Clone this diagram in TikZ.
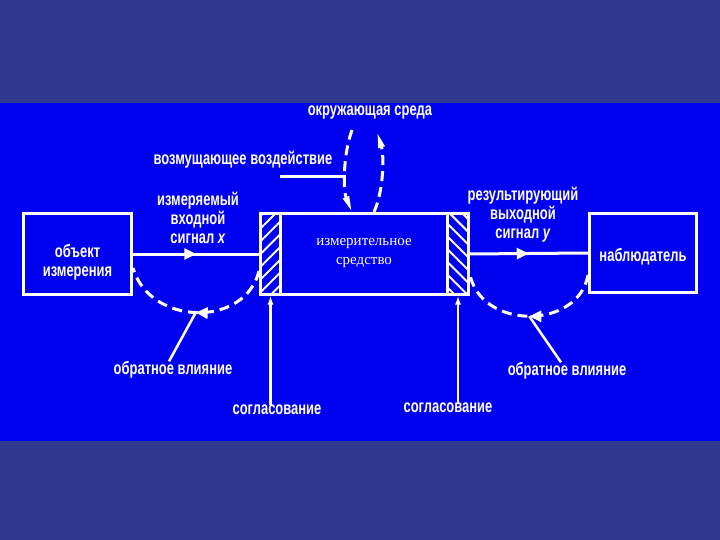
\documentclass[tikz,border=0pt]{standalone}
\usepackage{fontspec}
\setmainfont{Liberation Serif}
\newfontfamily\lblfont{Liberation Sans}[FakeStretch=0.72]
\usetikzlibrary{arrows.meta,patterns.meta,decorations.markings,positioning}

\definecolor{bgdark}{RGB}{46,57,146}
\definecolor{band}{RGB}{0,0,240}

\begin{document}
\begin{tikzpicture}[x=1pt,y=-1pt]

      % Line width used for boxes and connectors
      \def\lw{3pt}

      \tikzstyle{box}=[draw=white,line width=\lw,inner sep=0pt]
      % hatched ends of the measuring instrument; Lines pattern in white
      \tikzstyle{hatchL}=[box,pattern={Lines[angle=45,distance=9pt,line width=2pt]},pattern color=white]
      \tikzstyle{hatchR}=[box,pattern={Lines[angle=-45,distance=9pt,line width=2pt]},pattern color=white]
      \tikzstyle{lbl}=[text=white,inner sep=0pt,align=center,font=\lblfont\bfseries\fontsize{18}{19}\selectfont]
      \tikzstyle{inlbl}=[text=white,inner sep=0pt,align=center,font=\fontsize{15}{19}\selectfont]
      \tikzstyle{sig}=[white,line width=\lw]
      \tikzstyle{fb}=[white,line width=\lw,dash pattern=on 10pt off 6pt]
      % filled arrow head in the middle of a path
      \tikzstyle{midarrow}=[postaction={decorate},decoration={markings,
            mark=at position 0.5 with {\arrow{Triangle[length=12pt,width=11pt]}}}]

      % background and the bright band
      \fill[bgdark] (0,0) rectangle (720,540);
      \fill[band] (0,103) rectangle (720,441);

      % the three blocks
      \node[box,minimum width=108pt,minimum height=81pt] (obj) at (77.5,254) {};
      \node[lbl] at (77.5,262) {объект\\измерения};
      \node[box,minimum width=208pt,minimum height=81pt] (instr) at (364.5,254) {};
      \node[inlbl] at (364,253) {измерительное\\средство};
      \node[hatchL,minimum width=20pt,minimum height=81pt] (hl) at (270.5,254) {};
      \node[hatchR,minimum width=21pt,minimum height=81pt] (hr) at (458,254) {};
      \node[box,minimum width=107pt,minimum height=79pt] (obs) at (643,253) {};
      \node[lbl] at (643,257) {наблюдатель};

      % signals
      \draw[sig,midarrow] (obj.east) -- (hl.west);
      \draw[sig,midarrow] (hr.east) -- (obs.west);
      \node[lbl] (inlab) at (198,218) {измеряемый\\входной\\сигнал \textit{x}};
      \node[lbl] (outlab) at (523,215) {результирующий\\выходной\\сигнал \textit{y}};

      % feedback arcs, arrow pointing back to the source
      \coordinate (fbL1) at (259,271);
      \coordinate (fbL2) at (133,268);
      \draw[fb,midarrow,decoration={markings,mark=at position 0.5 with {\coordinate (fbLmid);}}]
            (fbL1) .. controls (245,328) and (150,326) .. (fbL2);
      \coordinate (fbR1) at (588,275);
      \coordinate (fbR2) at (470,275);
      \draw[fb,midarrow,decoration={markings,mark=at position 0.5 with {\coordinate (fbRmid);}}]
            (fbR1) .. controls (578,330) and (482,330) .. (fbR2);
      \node[lbl] (fbLlab) at (173,370) {обратное влияние};
      \node[lbl] (fbRlab) at (567,371) {обратное влияние};
      \draw[white,line width=2.5pt] ([xshift=-4pt]fbLlab.north) -- (fbLmid);
      \draw[white,line width=2.5pt] ([xshift=-6pt]fbRlab.north) -- (fbRmid);

      % matching (согласование)
      \node[lbl] (matL) at (277,410) {согласование};
      \node[lbl] (matR) at (448,408) {согласование};
      \draw[white,line width=2.5pt,-{Latex[length=9pt,width=6pt]}] (hl.south |- matL.north) -- (hl.south);
      \draw[white,line width=2.5pt,-{Latex[length=9pt,width=6pt]}] (hr.south |- matR.north) -- (hr.south);

      % environment and disturbance
      \node[lbl] (env) at (370,113) {окружающая среда};
      \coordinate (envL) at (352,130);
      \coordinate (envR) at (377,132);
      \draw[fb,-{Triangle[length=16pt,width=6pt]}] (envL) .. controls (343,155) and (343,190) .. (instr.north -| envL);
      \draw[fb,-{Triangle[length=16pt,width=6pt]}] (instr.north -| 374,0) .. controls (384,190) and (384,155) .. (envR);
      \node[lbl] (dist) at (243,160) {возмущающее воздействие};
      \coordinate (distEnd) at (346,177);
      \draw[sig] (distEnd -| 280,0) -- (distEnd);

   \end{tikzpicture}
\end{document}
